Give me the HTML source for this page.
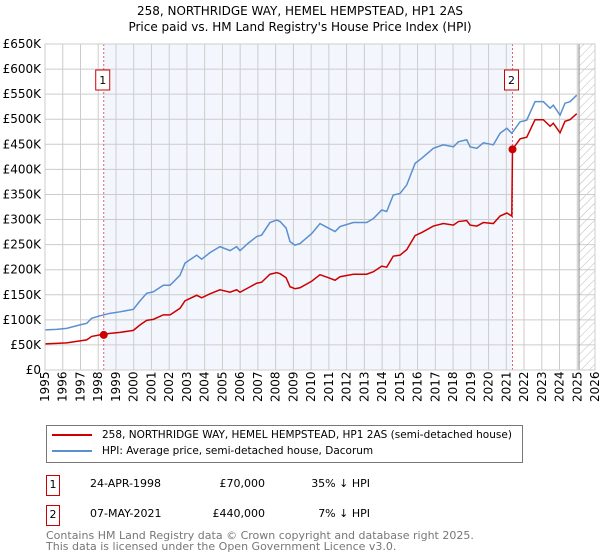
<!DOCTYPE html>
<html><head><meta charset="utf-8"><style>
body{margin:0;background:#fff;font-family:"DejaVu Sans","Liberation Sans",sans-serif;}
#wrap{position:relative;width:600px;height:560px;overflow:hidden}
.t{position:absolute;font-size:12px;color:#000;white-space:nowrap}
.badge{position:absolute;width:12px;height:19px;border:1px solid #cc0000;font-size:11px;text-align:center;line-height:18px}
</style></head><body><div id="wrap">
<div class="t" style="left:0;width:600px;text-align:center;top:4px;font-size:12px">258, NORTHRIDGE WAY, HEMEL HEMPSTEAD, HP1 2AS</div>
<div class="t" style="left:0;width:600px;text-align:center;top:20px;font-size:12px">Price paid vs. HM Land Registry's House Price Index (HPI)</div>
<svg id="chart" width="600" height="420" style="position:absolute;left:0;top:0;font-family:'DejaVu Sans','Liberation Sans',sans-serif">
<defs><pattern id="hatch" width="6" height="6" patternUnits="userSpaceOnUse" patternTransform="rotate(45)"><line x1="0" y1="0" x2="0" y2="6" stroke="#bbb" stroke-width="1"/></pattern></defs>
</svg>
<div style="position:absolute;left:46px;top:425px;width:475px;height:36px;border:1px solid #777;">
<div style="position:absolute;left:5px;top:3px;font-size:10.5px;white-space:nowrap"><span style="display:inline-block;width:40px;height:2px;background:#cc0000;vertical-align:middle;margin-right:10px"></span>258, NORTHRIDGE WAY, HEMEL HEMPSTEAD, HP1 2AS (semi-detached house)</div>
<div style="position:absolute;left:5px;top:19px;font-size:10.5px;white-space:nowrap"><span style="display:inline-block;width:40px;height:2px;background:#5b8fd0;vertical-align:middle;margin-right:10px"></span>HPI: Average price, semi-detached house, Dacorum</div>
</div>
<div class="badge" style="left:46px;top:475px">1</div>
<div class="t" style="left:90px;top:477px;font-size:11px">24-APR-1998</div>
<div class="t" style="left:185px;width:80px;text-align:right;top:477px;font-size:11px">£70,000</div>
<div class="t" style="left:290px;width:80px;text-align:right;top:477px;font-size:11px">35% ↓ HPI</div>
<div class="badge" style="left:46px;top:505px">2</div>
<div class="t" style="left:90px;top:507px;font-size:11px">07-MAY-2021</div>
<div class="t" style="left:185px;width:80px;text-align:right;top:507px;font-size:11px">£440,000</div>
<div class="t" style="left:290px;width:80px;text-align:right;top:507px;font-size:11px">7% ↓ HPI</div>
<div class="t" style="left:46px;top:530px;font-size:11px;color:#777;line-height:11px">Contains HM Land Registry data © Crown copyright and database right 2025.<br>This data is licensed under the Open Government Licence v3.0.</div>
</div>
<script>
const hpiYears=[1995,1995.65,1996.22,1996.97,1997.35,1997.63,1998.1,1998.66,1999.23,1999.98,2000.36,2000.73,2001.11,2001.67,2002.05,2002.61,2002.89,2003.55,2003.83,2004.3,2004.86,2005.43,2005.8,2005.99,2006.46,2006.93,2007.21,2007.68,2008.06,2008.25,2008.59,2008.81,2009.09,2009.37,2010.03,2010.5,2010.97,2011.35,2011.63,2012.38,2013.13,2013.51,2013.98,2014.26,2014.63,2015.01,2015.39,2015.86,2016.23,2016.89,2017.45,2018.02,2018.3,2018.77,2018.96,2019.34,2019.71,2020.27,2020.65,2021.03,2021.31,2021.78,2022.15,2022.62,2023.09,2023.47,2023.65,2024.03,2024.31,2024.59,2024.97];
const hpiValues=[80,81,83,90,93,103,108,113,116,121,138,153,156,169,169,189,213,229,221,234,246,238,246,238,253,266,269,294,299,296,283,256,249,252,272,292,283,276,286,294,294,302,319,316,349,352,369,412,422,442,449,445,455,459,445,442,453,449,472,482,472,495,498,535,535,522,528,508,532,535,548];
const priceYears=[1995,1995.65,1996.22,1996.97,1997.35,1997.63,1998.1,1998.66,1999.23,1999.98,2000.36,2000.73,2001.11,2001.67,2002.05,2002.61,2002.89,2003.55,2003.83,2004.3,2004.86,2005.43,2005.8,2005.99,2006.46,2006.93,2007.21,2007.68,2008.06,2008.25,2008.59,2008.81,2009.09,2009.37,2010.03,2010.5,2010.97,2011.35,2011.63,2012.38,2013.13,2013.51,2013.98,2014.26,2014.63,2015.01,2015.39,2015.86,2016.23,2016.89,2017.45,2018.02,2018.3,2018.77,2018.96,2019.34,2019.71,2020.27,2020.65,2021.03,2021.31,2021.35,2021.78,2022.15,2022.62,2023.09,2023.47,2023.65,2024.03,2024.31,2024.59,2024.97];
const priceValues=[52,53,54,58,60,67,70,73,75,79,90,99,101,110,110,123,138,149,144,152,160,155,160,155,164,173,175,191,194,192,184,166,162,164,177,190,184,179,186,191,191,196,207,205,227,229,240,268,274,287,292,289,296,298,289,287,294,292,307,313,307,440,461,464,499,499,486,492,473,496,499,511];
const saleYears=[1998.31,2021.35];
const saleValues=[70,440];
const saleLabels=["1","2"];
const yTicks=[0,50,100,150,200,250,300,350,400,450,500,550,600,650];
const yTickLabels=["£0","£50K","£100K","£150K","£200K","£250K","£300K","£350K","£400K","£450K","£500K","£550K","£600K","£650K"];
const xTicks=[1995,1996,1997,1998,1999,2000,2001,2002,2003,2004,2005,2006,2007,2008,2009,2010,2011,2012,2013,2014,2015,2016,2017,2018,2019,2020,2021,2022,2023,2024,2025,2026];
const dataEndYear=2025.1;

const X0=45,X1=595,Y0=370,Y1=44;
const xs=y=>X0+(y-1995)/(2026-1995)*(X1-X0);
const ys=v=>Y0-v/650*(Y0-Y1);
const svg=document.getElementById('chart');
const NS='http://www.w3.org/2000/svg';
function mk(tag,attrs){const e=document.createElementNS(NS,tag);for(const k in attrs)e.setAttribute(k,attrs[k]);svg.appendChild(e);return e;}
let e;
e=mk('rect',{x:xs(saleYears[0]),y:Y1,width:xs(saleYears[1])-xs(saleYears[0]),height:Y0-Y1,fill:'#eef3fc',opacity:0.7});


e=mk('rect',{x:xs(dataEndYear),y:Y1,width:X1-xs(dataEndYear),height:Y0-Y1,fill:'url(#hatch)'});


yTicks.forEach((t,i)=>{
 e=mk('line',{x1:X0,x2:X1,y1:ys(t),y2:ys(t),stroke:'#ccc','stroke-width':1});
 
 
 e=mk('text',{x:X0-4,y:ys(t)+4,'text-anchor':'end','font-size':12,fill:'#000'});
 e.textContent=yTickLabels[i];
 
 
});
xTicks.forEach(t=>{
 e=mk('line',{x1:xs(t),x2:xs(t),y1:Y1,y2:Y0,stroke:'#ccc','stroke-width':1});
 
 
 e=mk('text',{x:0,y:0,transform:`translate(${xs(t)+4},${Y0+32}) rotate(-90)`,'font-size':12,fill:'#000'});
 e.textContent=t;
 
 
});
e=mk('line',{x1:xs(dataEndYear),x2:xs(dataEndYear),y1:Y1,y2:Y0,stroke:'#888','stroke-width':1});


saleYears.forEach((s,i)=>{
 e=mk('line',{x1:xs(s),x2:xs(s),y1:Y1,y2:Y0,stroke:'#e06070','stroke-width':1,'stroke-dasharray':'2,2'});
 
 
 e=mk('rect',{x:xs(s)-8,y:70,width:14,height:20,fill:'#fff',stroke:'#cc0000'});
 
 
 e=mk('text',{x:xs(s)-1,y:84,'text-anchor':'middle','font-size':11,fill:'#000'});
 e.textContent=saleLabels[i];
 
 
});
e=mk('polyline',{points:hpiYears.map((y,i)=>xs(y)+','+ys(hpiValues[i])).join(' '),fill:'none',stroke:'#5b8fd0','stroke-width':1.5});


e=mk('polyline',{points:priceYears.map((y,i)=>xs(y)+','+ys(priceValues[i])).join(' '),fill:'none',stroke:'#cc0000','stroke-width':1.5});


saleYears.forEach((s,i)=>{
 e=mk('circle',{cx:xs(s),cy:ys(saleValues[i]),r:4,fill:'#cc0000'});
 
 
});
e=mk('rect',{x:X0,y:Y1,width:X1-X0,height:Y0-Y1,fill:'none',stroke:'#ccc'});


</script>
</body></html>
